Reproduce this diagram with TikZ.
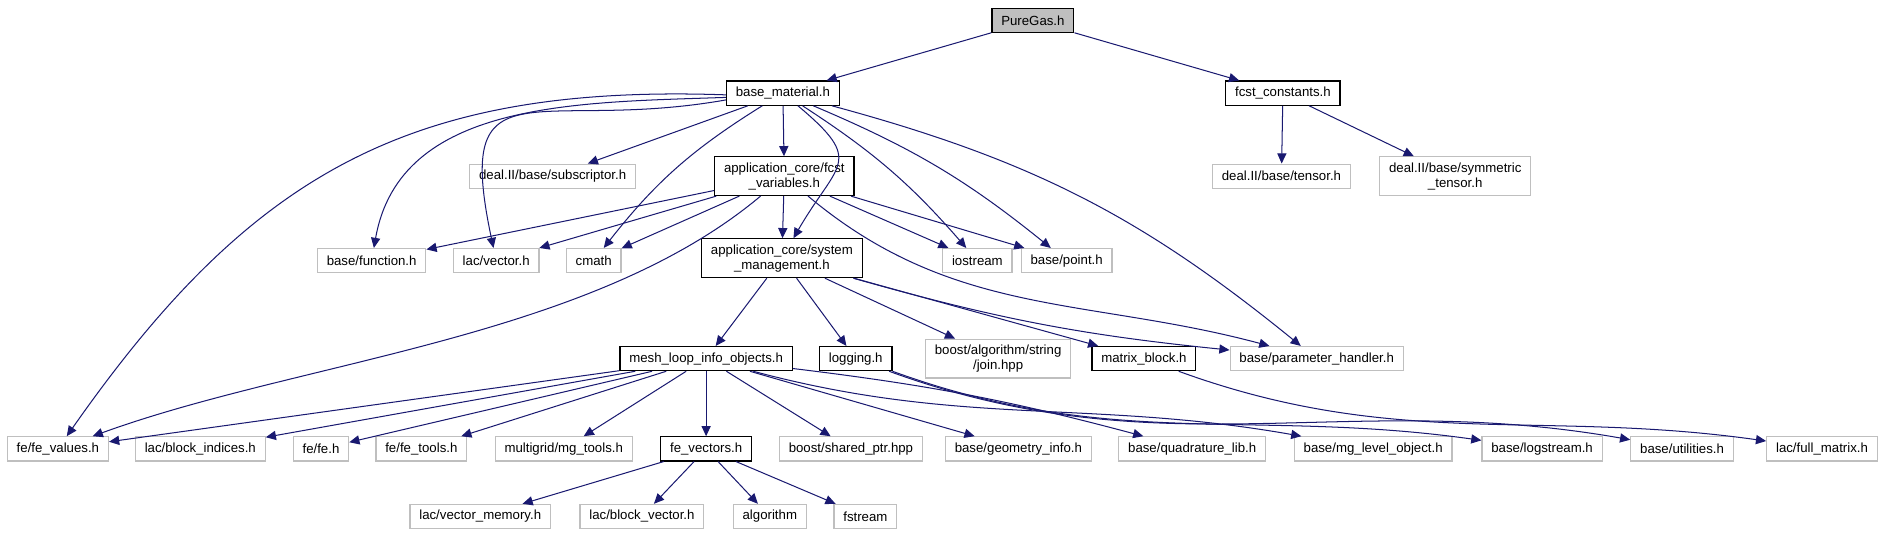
\documentclass[tikz,border=0pt]{standalone}
\usepackage{fontspec}
\setmainfont{Liberation Sans}
\usetikzlibrary{arrows.meta}
\definecolor{edgeblue}{HTML}{191970}
\definecolor{boxgrey}{HTML}{BFBFBF}

\begin{document}
\begin{tikzpicture}[
  font=\fontsize{7.8}{9}\selectfont,
  box/.style={draw, line width=0.7pt, minimum height=0.5cm,
              inner xsep=5.5pt, inner ysep=3.3pt, align=center},
  ext/.style={box, draw=boxgrey},
  arr/.style={-{Triangle[length=6pt,width=5.4pt]}, edgeblue, line width=0.6pt}
]
\useasboundingbox (0,0) rectangle (39.2,-11.05);
% top rows
\node[box, fill=boxgrey] (pure) at (21.40,-0.43) {PureGas.h};
\node[box] (bm) at (16.22,-1.93) {base\_material.h};
\node[box] (fc) at (26.58,-1.93) {fcst\_constants.h};
\node[ext] (subscr) at (11.45,-3.65) {deal.II/base/subscriptor.h};
\node[box] (fv) at (16.25,-3.65) {application\_core/fcst\\\_variables.h};
\node[ext] (tensor) at (26.55,-3.65) {deal.II/base/tensor.h};
\node[ext] (symt) at (30.15,-3.65) {deal.II/base/symmetric\\\_tensor.h};
\node[ext] (func) at (7.70,-5.40) {base/function.h};
\node[ext] (vec) at (10.28,-5.40) {lac/vector.h};
\node[ext] (cmath) at (12.30,-5.40) {cmath};
\node[box] (sys) at (16.20,-5.35) {application\_core/system\\\_management.h};
\node[ext] (iostr) at (20.25,-5.40) {iostream};
\node[ext] (point) at (22.10,-5.40) {base/point.h};
\node[box] (ml) at (14.63,-7.43) {mesh\_loop\_info\_objects.h};
\node[box] (logging) at (17.73,-7.43) {logging.h};
\node[ext] (join) at (20.68,-7.43) {boost/algorithm/string\\/join.hpp};
\node[box] (mblock) at (23.70,-7.43) {matrix\_block.h};
\node[ext] (param) at (27.28,-7.43) {base/parameter\_handler.h};
% bottom rows
\node[ext] (fevals) at (1.20,-9.30) {fe/fe\_values.h};
\node[ext] (bidx) at (4.15,-9.30) {lac/block\_indices.h};
\node[ext] (fe) at (6.65,-9.30) {fe/fe.h};
\node[ext] (fetools) at (8.73,-9.30) {fe/fe\_tools.h};
\node[ext] (mgtools) at (11.68,-9.30) {multigrid/mg\_tools.h};
\node[box] (fevec) at (14.63,-9.30) {fe\_vectors.h};
\node[ext] (shptr) at (17.63,-9.30) {boost/shared\_ptr.hpp};
\node[ext] (geom) at (21.10,-9.30) {base/geometry\_info.h};
\node[ext] (quad) at (24.70,-9.30) {base/quadrature\_lib.h};
\node[ext] (mglevel) at (28.45,-9.30) {base/mg\_level\_object.h};
\node[ext] (logstr) at (31.95,-9.30) {base/logstream.h};
\node[ext] (util) at (34.85,-9.30) {base/utilities.h};
\node[ext] (fullm) at (37.75,-9.30) {lac/full\_matrix.h};
\node[ext] (vmem) at (9.95,-10.70) {lac/vector\_memory.h};
\node[ext] (bvec) at (13.30,-10.70) {lac/block\_vector.h};
\node[ext] (algo) at (15.95,-10.70) {algorithm};
\node[ext] (fstr) at (17.93,-10.70) {fstream};
% includes
\draw[arr] (pure) -- (bm);
\draw[arr] (pure) -- (fc);
\draw[arr] (fc) -- (tensor);
\draw[arr] (fc) -- (symt);
\draw[arr] ([yshift=-1pt]bm.west) to[out=178, in=55, looseness=1.1] (fevals);
\draw[arr] ([yshift=-2.5pt]bm.west) to[out=182, in=80] (func);
\draw[arr] ([yshift=-4pt]bm.west) to[out=190, in=102, looseness=1.8] (vec);
\draw[arr] (bm) -- (subscr);
\draw[arr] (bm) to[bend right=10] (cmath);
\draw[arr] (bm) -- (fv);
\draw[arr] (bm) to[out=-40, in=60, looseness=1.7] (sys);
\draw[arr] (bm) to[bend left=8] (iostr);
\draw[arr] (bm) to[bend left=8] (point);
\draw[arr] (bm) to[bend left=12] (param);
\draw[arr] (fv) -- (func);
\draw[arr] (fv) -- (vec);
\draw[arr] (fv) -- (cmath);
\draw[arr] (fv) -- (sys);
\draw[arr] (fv) -- (iostr);
\draw[arr] (fv) -- (point);
\draw[arr] (fv) to[out=-140, in=20, looseness=0.8] (fevals);
\draw[arr] (fv) to[out=-40, in=165] (param);
\draw[arr] (sys) -- (ml);
\draw[arr] (sys) -- (logging);
\draw[arr] (sys) -- (join);
\draw[arr] (sys) -- (mblock);
\draw[arr] (sys) to[bend right=5] (param);
\draw[arr] (ml) -- (fevals);
\draw[arr] (ml) -- (bidx);
\draw[arr] (ml) -- (fe);
\draw[arr] (ml) -- (fetools);
\draw[arr] (ml) -- (mgtools);
\draw[arr] (ml) -- (fevec);
\draw[arr] (ml) -- (shptr);
\draw[arr] (ml) -- (geom);
\draw[arr] (ml) to[bend left=4] (quad);
\draw[arr] (ml) to[out=-15, in=170] (mglevel);
\draw[arr] (logging.south east) to[out=-20, in=172] (logstr);
\draw[arr] ([xshift=-2pt]logging.south east) to[out=-20, in=170] (util);
\draw[arr] (mblock) to[out=-20, in=172] (fullm);
\draw[arr] (fevec) -- (vmem);
\draw[arr] (fevec) -- (bvec);
\draw[arr] (fevec) -- (algo);
\draw[arr] (fevec) -- (fstr);
\end{tikzpicture}
\end{document}
